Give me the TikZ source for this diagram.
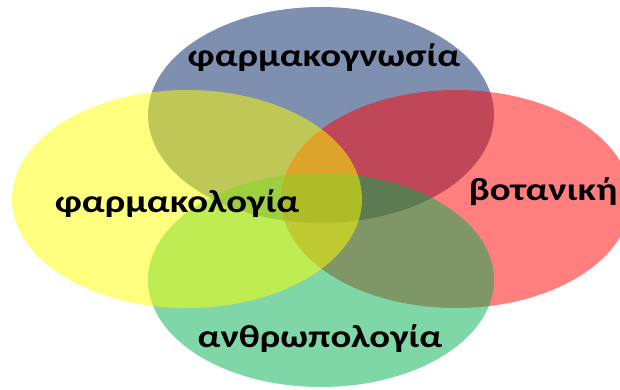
\documentclass[tikz,border=0pt]{standalone}
\usepackage{fontspec}
\setmainfont{Carlito}
\definecolor{vblue}{HTML}{002060}
\definecolor{vred}{HTML}{FF0000}
\definecolor{vgreen}{HTML}{00B050}
\definecolor{vyellow}{HTML}{FFFF00}
\begin{document}
\begin{tikzpicture}[x=1pt,y=-1pt]
\tikzset{
  venn/.style={fill opacity=0.5, draw=none},
  lbl/.style={font=\bfseries\fontsize{32}{34}\selectfont, text=black, inner sep=0pt, xscale=1.21, transform shape}
}
\useasboundingbox (0,0) rectangle (620,390);
\begin{scope}
\clip (0,0) rectangle (620,390);
\fill[venn, fill=vblue]   (321,115) ellipse [x radius=173pt, y radius=108pt];
\fill[venn, fill=vred]    (456,199) ellipse [x radius=175pt, y radius=109pt];
\fill[venn, fill=vgreen]  (321,280) ellipse [x radius=173pt, y radius=107pt];
\fill[venn, fill=vyellow] (187,199) ellipse [x radius=175pt, y radius=109pt];
\end{scope}
\node[lbl] (farmakognosia) at (324,58) {φαρμακογνωσία};
\node[lbl] (farmakologia) at (177,204) {φαρμακολογία};
\node[lbl] (botaniki) at (543,192) {βοτανική};
\node[lbl] (anthropologia) at (320,339) {ανθρωπολογία};
\end{tikzpicture}
\end{document}
